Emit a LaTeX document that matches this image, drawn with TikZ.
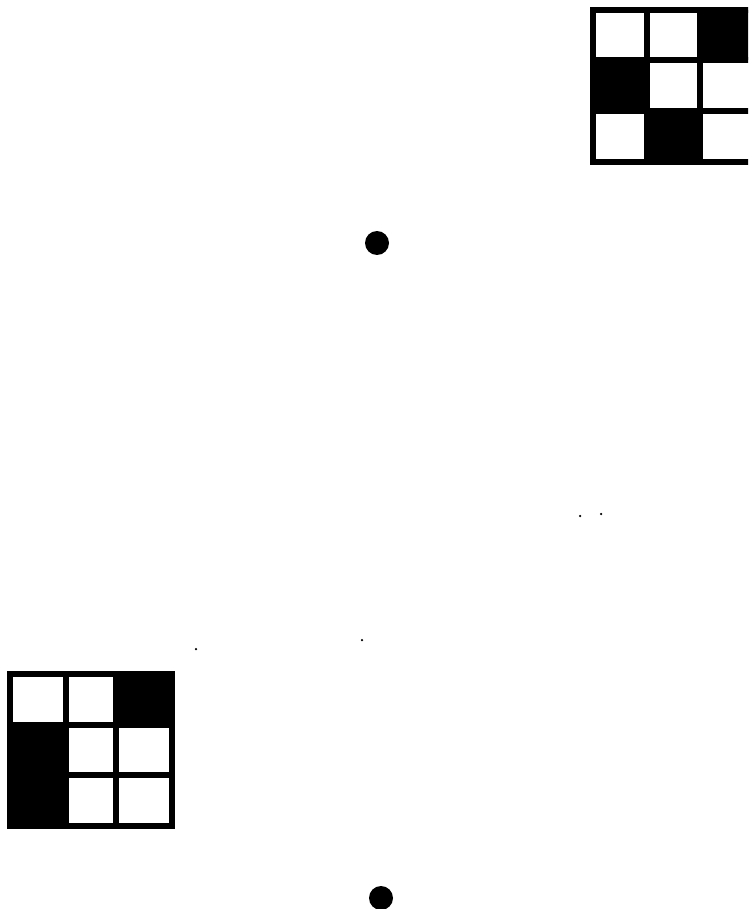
\documentclass[tikz,border=0pt]{standalone}
\usetikzlibrary{calc}
\begin{document}
\begin{tikzpicture}[x=0.02cm, y=-0.02cm]
% Styles
\tikzstyle{dot}=[fill=black, shape=circle, minimum size=0.48cm, inner sep=0cm]
\tikzstyle{speck}=[fill=black, shape=circle, minimum size=0.05cm, inner sep=0cm]
\tikzstyle{gridline}=[draw=black, line width=2.9pt]
\tikzstyle{blackcell}=[fill=black]

\useasboundingbox (0,0) rectangle (748,909);
\clip (0,0) rectangle (748,909);

% top grid
\coordinate (1) at (593, 10);
\coordinate (2) at (647, 10);
\coordinate (3) at (700, 10);
\coordinate (4) at (753, 10);
\coordinate (5) at (593, 162);
\coordinate (6) at (647, 162);
\coordinate (7) at (700, 162);
\coordinate (8) at (753, 162);
\coordinate (9) at (593, 60);
\coordinate (10) at (753, 60);
\coordinate (11) at (593, 111);
\coordinate (12) at (753, 111);

% bottom grid
\coordinate (13) at (10, 674);
\coordinate (14) at (66, 674);
\coordinate (15) at (116, 674);
\coordinate (16) at (172, 674);
\coordinate (17) at (10, 826);
\coordinate (18) at (66, 826);
\coordinate (19) at (116, 826);
\coordinate (20) at (172, 826);
\coordinate (21) at (10, 725);
\coordinate (22) at (172, 725);
\coordinate (23) at (10, 775);
\coordinate (24) at (172, 775);

\fill [style=blackcell] (3) rectangle (10);
\fill [style=blackcell] (9) rectangle (2 |- 11);
\fill [style=blackcell] (2 |- 11) rectangle (7);
\fill [style=blackcell] (15) rectangle (22);
\fill [style=blackcell] (21) rectangle (18);

\draw [style=gridline] (1) rectangle (8);
\draw [style=gridline] (2) to (6);
\draw [style=gridline] (3) to (7);
\draw [style=gridline] (9) to (10);
\draw [style=gridline] (11) to (12);

\draw [style=gridline] (13) rectangle (20);
\draw [style=gridline] (14) to (18);
\draw [style=gridline] (15) to (19);
\draw [style=gridline] (21) to (22);
\draw [style=gridline] (23) to (24);

\node [style=dot] (25) at (377, 243) {};
\node [style=dot] (26) at (381, 898) {};
\node [style=speck] (27) at (580, 516) {};
\node [style=speck] (28) at (601, 514) {};
\node [style=speck] (29) at (196, 649) {};
\node [style=speck] (30) at (362, 640) {};
\end{tikzpicture}
\end{document}
